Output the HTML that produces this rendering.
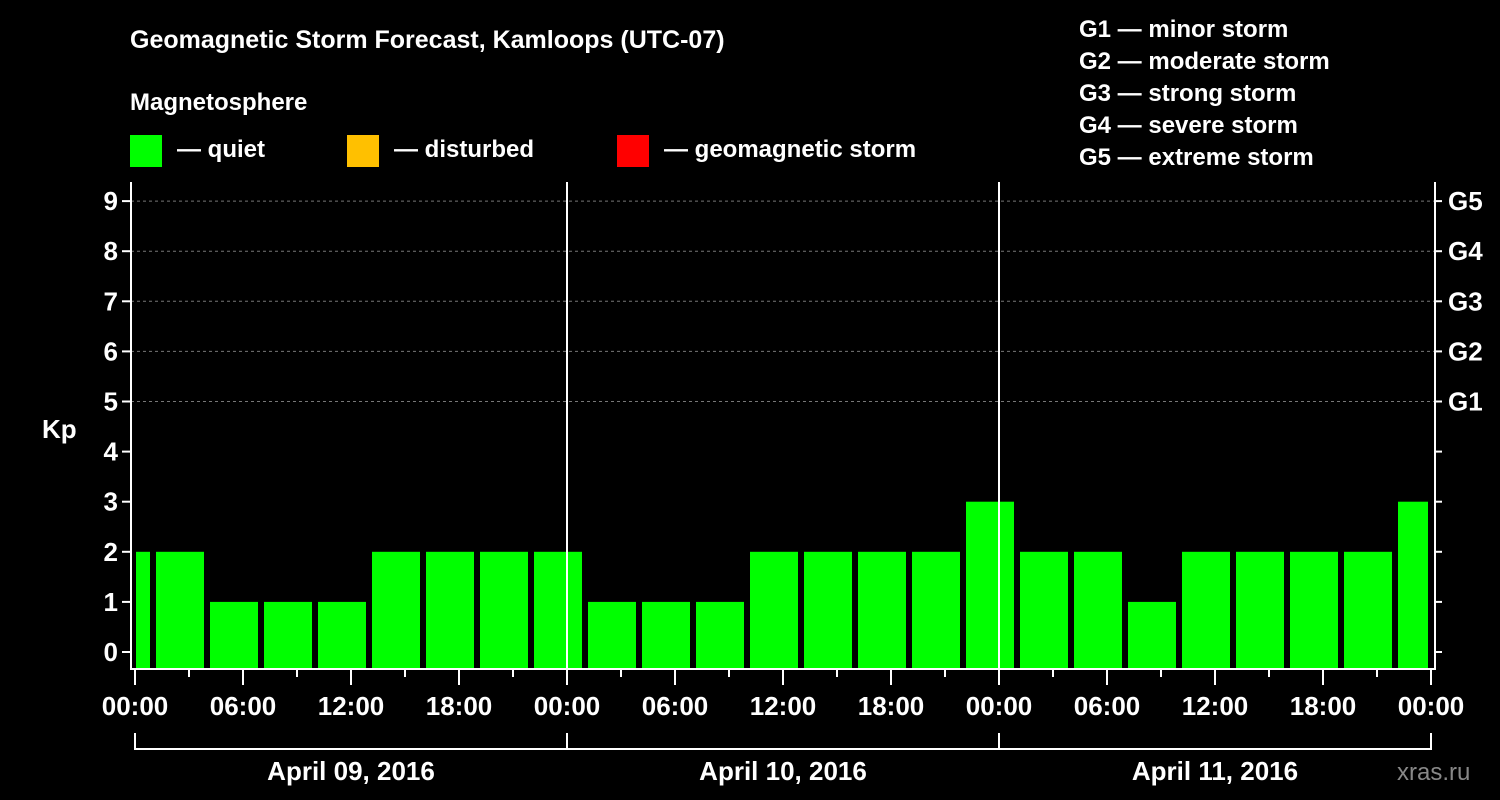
<!DOCTYPE html>
<html><head><meta charset="utf-8"><style>
body{margin:0;background:#000;}
svg{display:block;font-family:"Liberation Sans",sans-serif;font-weight:bold;}
</style></head><body>
<svg id="c" width="1500" height="800" viewBox="0 0 1500 800">
<rect width="1500" height="800" fill="#000"/>
<text x="130" y="48" fill="#fff" font-size="25">Geomagnetic Storm Forecast, Kamloops (UTC-07)</text>
<text x="130" y="110" fill="#fff" font-size="24">Magnetosphere</text>
<g><rect x="130" y="135" width="32" height="32" fill="#00ff00"/><text x="177" y="157" fill="#fff" font-size="24">— quiet</text></g>
<g><rect x="347" y="135" width="32" height="32" fill="#ffc000"/><text x="394" y="157" fill="#fff" font-size="24">— disturbed</text></g>
<g><rect x="617" y="135" width="32" height="32" fill="#ff0000"/><text x="664" y="157" fill="#fff" font-size="24">— geomagnetic storm</text></g>
<g fill="#fff" font-size="24">
<text x="1079" y="37">G1 — minor storm</text><text x="1079" y="69">G2 — moderate storm</text><text x="1079" y="101">G3 — strong storm</text><text x="1079" y="133">G4 — severe storm</text><text x="1079" y="165">G5 — extreme storm</text></g>
<text x="42" y="438" fill="#fff" font-size="26">Kp</text>
<text x="1397" y="780" fill="#888" font-size="24" font-weight="normal">xras.ru</text>
<g id="plot"></g>
</svg>
<script>
const kpValues=[2,2,1,1,1,2,2,2,2,1,1,1,2,2,2,2,3,2,2,1,2,2,2,2,3];
const yTicks=[0,1,2,3,4,5,6,7,8,9];
const gLabels=["G1","G2","G3","G4","G5"];
const xTickLabels=["00:00","06:00","12:00","18:00","00:00","06:00","12:00","18:00","00:00","06:00","12:00","18:00","00:00"];
const dayLabels=["April 09, 2016","April 10, 2016","April 11, 2016"];
const NS="http://www.w3.org/2000/svg",g=document.getElementById('plot');
const X0=135,DAY=432,L=131,R=1435,TOP=182,BOT=668;
const xh=h=>X0+h*DAY/24;            // hours from start
const y=v=>652-v*50.1;
function mk(t,a,txt){const e=document.createElementNS(NS,t);for(const k in a)e.setAttribute(k,a[k]);if(txt!=null)e.textContent=txt;g.appendChild(e);return e;}
// grid
for(let v=5;v<=9;v++){const e=mk('line',{x1:L,x2:R,y1:y(v),y2:y(v),stroke:'#777','stroke-dasharray':'3,3'});

}
// bars
kpValues.forEach((v,k)=>{const s=-2+3*k;let a=xh(s)+3,b=xh(s+3)-3;a=Math.max(a,L+5);b=Math.min(b,xh(72)-3);
const e=mk('rect',{x:a,y:y(v),width:b-a,height:BOT-y(v),fill:v>=5?'#ff0000':v>=4?'#ffc000':'#00ff00'});

});
// day separators
[1,2].forEach(d=>{const e=mk('line',{x1:xh(24*d),x2:xh(24*d),y1:TOP,y2:BOT,stroke:'#fff','stroke-width':2});

});
// axes
mk('path',{d:`M${L} ${TOP}V${BOT+1}H${R}V${TOP}`,fill:'none',stroke:'#fff','stroke-width':2});
yTicks.forEach(v=>{mk('line',{x1:L-9,x2:L,y1:y(v),y2:y(v),stroke:'#fff','stroke-width':2});
mk('line',{x1:R,x2:R+7,y1:y(v),y2:y(v),stroke:'#fff','stroke-width':2});
const t=mk('text',{x:118,y:y(v)+9,fill:'#fff','font-size':26,'text-anchor':'end'},v);

});
gLabels.forEach((l,i)=>{const t=mk('text',{x:1448,y:y(5+i)+9,fill:'#fff','font-size':26},l);

});
for(let h=0;h<=72;h+=3){const maj=h%6==0;mk('line',{x1:xh(h),x2:xh(h),y1:BOT+1,y2:BOT+(maj?17:9),stroke:'#fff','stroke-width':2});}
xTickLabels.forEach((l,i)=>{const t=mk('text',{x:xh(6*i),y:715,fill:'#fff','font-size':26,'text-anchor':'middle'},l);

});
mk('path',{d:`M${xh(0)} 733V749H${xh(72)}V733M${xh(24)} 733V749M${xh(48)} 733V749`,fill:'none',stroke:'#fff','stroke-width':2});
dayLabels.forEach((l,i)=>{const t=mk('text',{x:xh(24*i+12),y:780,fill:'#fff','font-size':26,'text-anchor':'middle'},l);

});
</script>
</body></html>
